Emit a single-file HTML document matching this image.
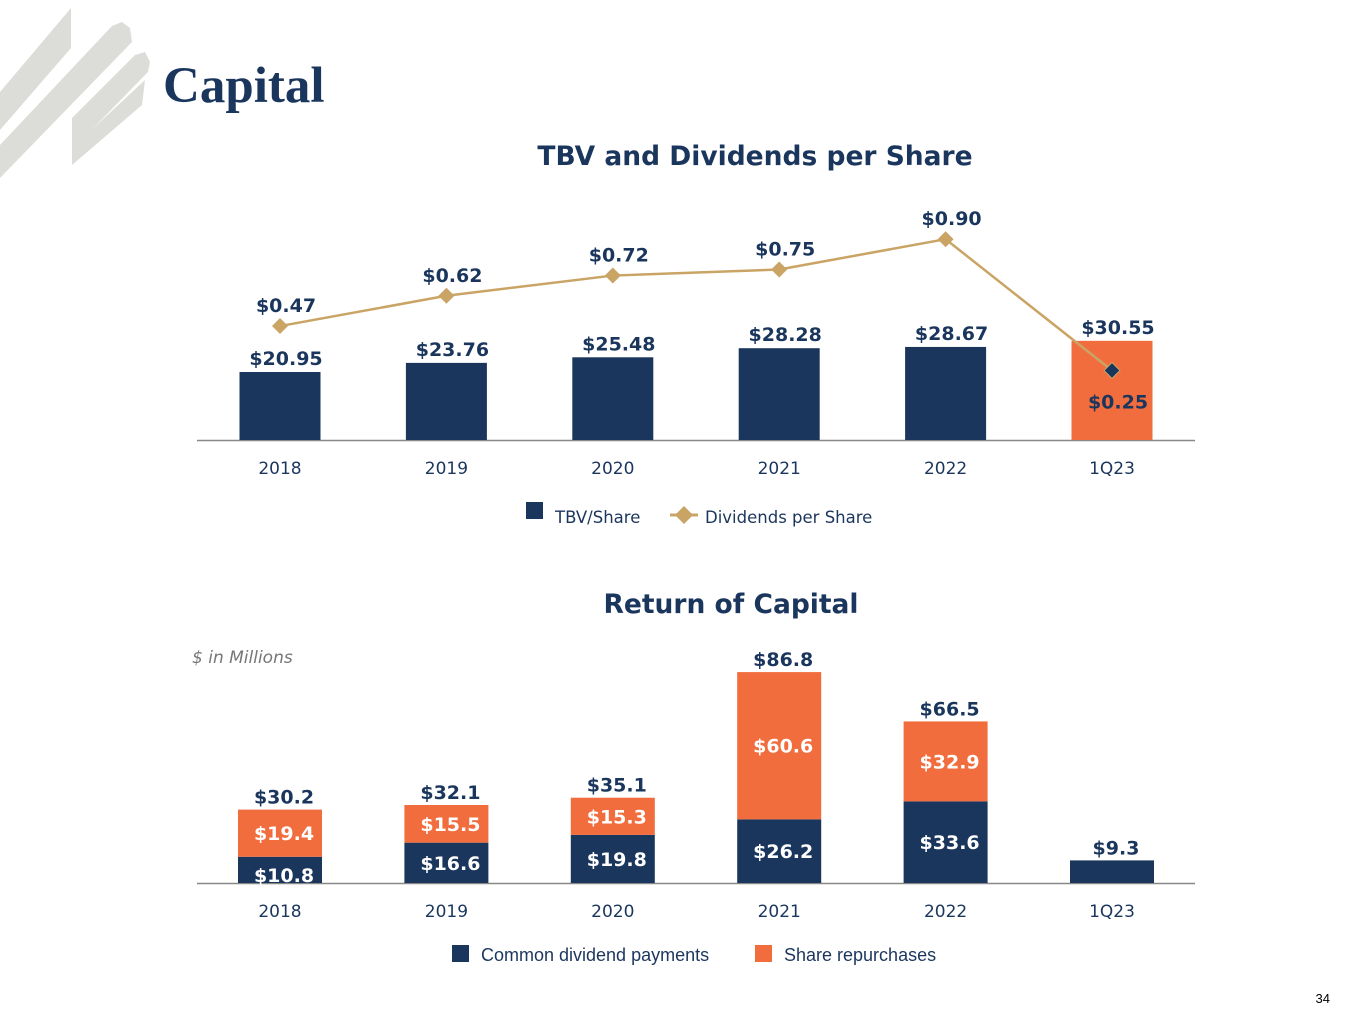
<!DOCTYPE html>
<html><head><meta charset="utf-8"><style>
html,body{margin:0;padding:0;background:#fff;}
svg{display:block;}
text{font-family:"DejaVu Sans","Liberation Sans",sans-serif;}
</style></head><body>
<svg id="s" width="1365" height="1024" viewBox="0 0 1365 1024" xmlns="http://www.w3.org/2000/svg">
<g fill="#dcdcd8">
<polygon points="0,92 71,8 71,48 0,130"/>
<polygon points="0,145 112,26 122,22 130,28 132,42 0,178"/>
<polygon points="72,118 135,55 145,52 150,62 148,72 72,150"/>
<polygon points="72,165 72,148 145,80 142,105"/>
</g>
<text x="163" y="102" style="font-family:'Liberation Serif',serif;font-weight:bold" font-size="51" fill="#1b365d">Capital</text>
<text x="755" y="165" text-anchor="middle" font-size="26.5" font-weight="bold" fill="#1b365d">TBV and Dividends per Share</text>
<line x1="197" y1="440.5" x2="1195" y2="440.5" stroke="#888" stroke-width="1.5"/>
<g id="topg"></g>
<g>
<rect x="526" y="502" width="17" height="17" fill="#1b365d"/>
<text x="555" y="523" font-size="16.5" fill="#1b365d">TBV/Share</text>
<line x1="670" y1="515" x2="698" y2="515" stroke="#c9a465" stroke-width="3"/>
<polygon points="684,506 693,515 684,524 675,515" fill="#c9a465"/>
<text x="705" y="523" font-size="16.5" fill="#1b365d">Dividends per Share</text>
</g>
<text x="731" y="613" text-anchor="middle" font-size="26.5" font-weight="bold" fill="#1b365d">Return of Capital</text>
<text x="192" y="663" font-size="17" font-style="italic" fill="#777">$ in Millions</text>
<line x1="197" y1="883.5" x2="1195" y2="883.5" stroke="#888" stroke-width="1.5"/>
<g id="botg"></g>
<g>
<rect x="452" y="945" width="17" height="17" fill="#1b365d"/>
<text x="481" y="961" font-size="18" style="font-family:'Liberation Sans',sans-serif" fill="#1b365d">Common dividend payments</text>
<rect x="755" y="945" width="17" height="17" fill="#f26d3d"/>
<text x="784" y="961" font-size="18" style="font-family:'Liberation Sans',sans-serif" fill="#1b365d">Share repurchases</text>
</g>
<text x="1330" y="1003" text-anchor="end" font-size="13" style="font-family:'Liberation Sans',sans-serif" fill="#000">34</text>
</svg>
<script>
const categories = ["2018","2019","2020","2021","2022","1Q23"];
const tbv = [20.95,23.76,25.48,28.28,28.67,30.55];
const dividends = [0.47,0.62,0.72,0.75,0.90,0.25];
const divPayments = [10.8,16.6,19.8,26.2,33.6,9.3];
const repurchases = [19.4,15.5,15.3,60.6,32.9,0];
const totals = [30.2,32.1,35.1,86.8,66.5,9.3];

const NS="http://www.w3.org/2000/svg";
const NAVY="#1b365d", ORANGE="#f26d3d", GOLD="#c9a465";
function mk(tag,attrs,parent,txt){const e=document.createElementNS(NS,tag);for(const k in attrs)e.setAttribute(k,attrs[k]);if(txt!==undefined)e.textContent=txt;parent.appendChild(e);return e;}
function xc(i){return 280+i*166.4;}
const topBase=440, botBase=883;
function yTbv(v){return topBase-v*3.246;}
function yDiv(v){return 421-v*202;}
function yBot(v){return botBase-v*2.43;}

const topG=document.getElementById('topg');
categories.forEach((c,i)=>{
  const last=i===categories.length-1;
  const r=mk('rect',{x:xc(i)-40.5,y:yTbv(tbv[i]),width:81,height:topBase-yTbv(tbv[i]),fill:last?ORANGE:NAVY},topG);
  
  
  const t=mk('text',{x:xc(i)+6,y:yTbv(tbv[i])-7,'text-anchor':'middle','font-size':19,'font-weight':'bold',fill:NAVY},topG,'$'+tbv[i].toFixed(2));
  
  
  const xl=mk('text',{x:xc(i),y:474,'text-anchor':'middle','font-size':17,fill:NAVY},topG,c);
  
  
});
const pts=dividends.map((v,i)=>xc(i)+','+yDiv(v)).join(' ');
const pl=mk('polyline',{points:pts,fill:'none',stroke:GOLD,'stroke-width':2.5},topG);


dividends.forEach((v,i)=>{
  const last=i===dividends.length-1;
  const x=xc(i), y=yDiv(v);
  const m=mk('polygon',{points:`${x},${y-8} ${x+8},${y} ${x},${y+8} ${x-8},${y}`,fill:last?NAVY:GOLD,stroke:last?GOLD:'none','stroke-width':1},topG);
  
  
  const t=mk('text',{x:last?x+6:x+6,y:last?y+38:y-14,'text-anchor':'middle','font-size':19,'font-weight':'bold',fill:NAVY},topG,'$'+v.toFixed(2));
  
  
});

const botG=document.getElementById('botg');
categories.forEach((c,i)=>{
  const x0=xc(i)-42;
  const yd=yBot(divPayments[i]);
  const r1=mk('rect',{x:x0,y:yd,width:84,height:botBase-yd,fill:NAVY},botG);
  
  
  const yr=yBot(divPayments[i]+repurchases[i]);
  if(repurchases[i]>0){
    const r2=mk('rect',{x:x0,y:yr,width:84,height:yd-yr,fill:ORANGE},botG);
    
    
    const t2=mk('text',{x:xc(i)+4,y:(yr+yd)/2+7,'text-anchor':'middle','font-size':19,'font-weight':'bold',fill:'#fff'},botG,'$'+repurchases[i].toFixed(1));
    
    
    const t1=mk('text',{x:xc(i)+4,y:(yd+botBase)/2+7+(divPayments[i]<15?5:0),'text-anchor':'middle','font-size':19,'font-weight':'bold',fill:'#fff'},botG,'$'+divPayments[i].toFixed(1));
    
    
  }
  const tt=mk('text',{x:xc(i)+4,y:Math.min(yr,yd)-6,'text-anchor':'middle','font-size':19,'font-weight':'bold',fill:NAVY},botG,'$'+totals[i].toFixed(1));
  
  
  const xl=mk('text',{x:xc(i),y:917,'text-anchor':'middle','font-size':17,fill:NAVY},botG,c);
  
  
});
</script>
</body></html>
